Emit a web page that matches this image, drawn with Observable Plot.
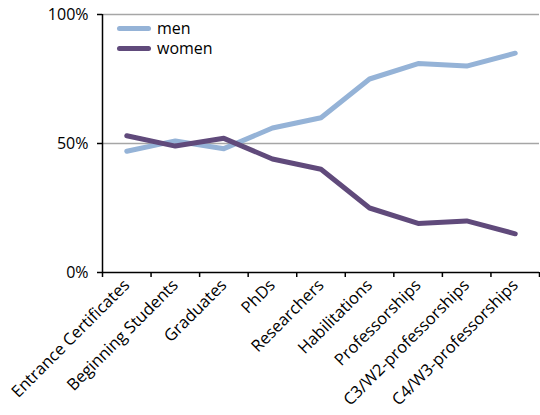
<!DOCTYPE html>
<html>
<head>
<meta charset="utf-8">
<script src="https://cdn.jsdelivr.net/npm/d3@7"></script>
<script src="https://cdn.jsdelivr.net/npm/@observablehq/plot@0.6"></script>
<style>
  html, body { margin: 0; padding: 0; background: #fff; }
  #wrap { position: relative; width: 540px; height: 415px; font-family: "Open Sans", sans-serif; }
  #legend { position: absolute; left: 117px; top: 18px; font-size: 16px; color: #000; line-height: 20px; }
  #legend .row { display: flex; align-items: center; height: 20px; }
  #legend .sw { width: 34px; height: 5px; border-radius: 3px; margin-right: 6px; }
</style>
</head>
<body>
<div id="wrap"><div id="legend"></div></div>
<script>
const categories = ["Entrance Certificates", "Beginning Students", "Graduates", "PhDs", "Researchers", "Habilitations", "Professorships", "C3/W2-professorships", "C4/W3-professorships"];
const men   = [47, 51, 48, 56, 60, 75, 81, 80, 85];
const women = [53, 49, 52, 44, 40, 25, 19, 20, 15];
const seriesNames = ["men", "women"];
const colors = ["#95B3D7", "#604A7B"];
const yTicks = [0, 0.5, 1];

const rows = [];
categories.forEach((c, i) => {
  rows.push({series: "men", idx: i + 0.5, value: men[i] / 100});
  rows.push({series: "women", idx: i + 0.5, value: women[i] / 100});
});

const n = categories.length;
const font = "Open Sans, sans-serif";

const chart = Plot.plot({
  width: 540,
  height: 415,
  marginLeft: 102,
  marginRight: 1,
  marginTop: 14,
  marginBottom: 143,
  style: {fontFamily: font, fontSize: "16px", color: "#000", background: "#fff"},
  x: {domain: [0, n], axis: null},
  y: {domain: [0, 1], axis: null},
  color: {domain: seriesNames, range: colors},
  marks: [
    Plot.ruleY(yTicks.filter(d => d > 0), {stroke: "#a6a6a6", strokeWidth: 1.5}),
    Plot.axisY({ticks: yTicks, tickFormat: d3.format(".0%"), tickSize: 5, tickPadding: 9, fontSize: 16, stroke: "#000", strokeWidth: 1.5, label: null}),
    Plot.axisX({ticks: d3.range(n + 1), tickFormat: () => "", tickSize: 5, stroke: "#000", strokeWidth: 1.5, label: null}),
    Plot.axisX({ticks: d3.range(n).map(i => i + 0.5), tickFormat: i => categories[Math.floor(i)], tickSize: 0, tickRotate: -45, tickPadding: 10, fontSize: 16.5, label: null}),
    Plot.ruleX([0], {stroke: "#000", strokeWidth: 1.5}),
    Plot.ruleY([0], {stroke: "#000", strokeWidth: 1.5}),
    Plot.line(rows, {x: "idx", y: "value", z: "series", stroke: "series", strokeWidth: 5, strokeLinejoin: "round", strokeLinecap: "round"})
  ]
});
const wrap = document.getElementById("wrap");
wrap.insertBefore(chart, wrap.firstChild);

const legend = document.getElementById("legend");
seriesNames.forEach((s, i) => {
  const row = document.createElement("div");
  row.className = "row";
  row.innerHTML = `<span class="sw" style="background:${colors[i]}"></span><span>${s}</span>`;
  legend.appendChild(row);
});
</script>
</body>
</html>
